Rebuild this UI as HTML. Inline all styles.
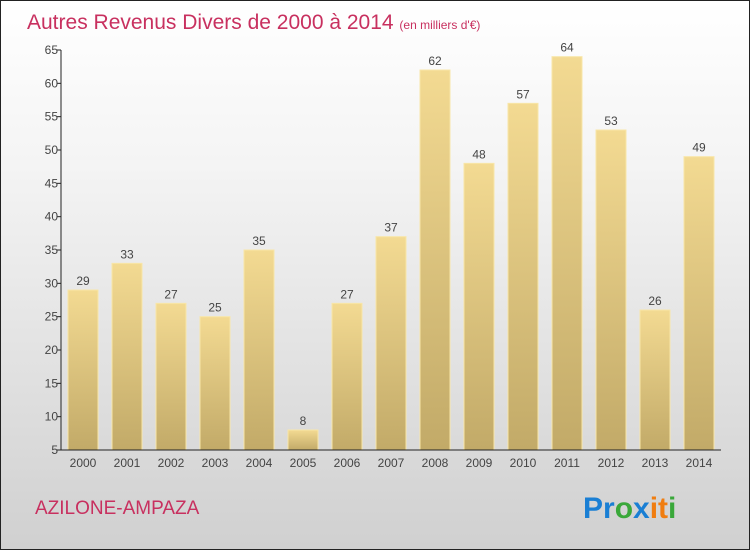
<!DOCTYPE html>
<html><head><meta charset="utf-8"><style>
body{margin:0}
#c{width:748px;height:548px;border:1px solid #222;background:linear-gradient(#ffffff,#f4f4f4 30%,#d0d0d0);position:relative;font-family:"Liberation Sans",sans-serif}
</style></head><body>
<div id="c">
<svg width="748" height="548" xmlns="http://www.w3.org/2000/svg" id="s">
<defs><linearGradient id="g" x1="0" y1="0" x2="0" y2="1"><stop offset="0" stop-color="#f3da92"/><stop offset="1" stop-color="#c2aa68"/></linearGradient></defs>
<text x="26" y="28" font-size="21" fill="#c8305f">Autres Revenus Divers de 2000 à 2014 <tspan font-size="12">(en milliers d'€)</tspan></text>
<text x="34" y="513" font-size="19" fill="#c8305f">AZILONE-AMPAZA</text>
<g font-size="30" font-weight="bold">
<text x="582" y="517"><tspan fill="#1a7fd4">Pr</tspan><tspan fill="#3aa83a">o</tspan><tspan fill="#1a7fd4">x</tspan><tspan fill="#f07d10">i</tspan><tspan fill="#f07d10">t</tspan><tspan fill="#3aa83a">i</tspan></text>
</g>
<g id="plot"></g>
</svg>
</div>
<script>
const categories=["2000","2001","2002","2003","2004","2005","2006","2007","2008","2009","2010","2011","2012","2013","2014"];
const values=[29,33,27,25,35,8,27,37,62,48,57,64,53,26,49];
const yTicks=[5,10,15,20,25,30,35,40,45,50,55,60,65];
const ns="http://www.w3.org/2000/svg";
const p=document.getElementById('plot');
const x0=60,slot=44,ymin=5,ymax=65,yTop=49,yBot=449;
const y=v=>yBot-(v-ymin)/(ymax-ymin)*(yBot-yTop);
const xc=i=>x0+slot/2+slot*i;
function mk(t,a){const e=document.createElementNS(ns,t);for(const k in a)e.setAttribute(k,a[k]);p.appendChild(e);return e;}
values.forEach((v,i)=>{
 const r=mk('rect',{x:xc(i)-15,y:y(v),width:30,height:yBot-y(v),fill:'url(#g)',stroke:'#f8e6a8','stroke-width':1});
 
 
 const t=mk('text',{x:xc(i),y:y(v)-5,'text-anchor':'middle','font-size':12,fill:'#444'});
 t.textContent=v;
 
 
 const c=mk('text',{x:xc(i),y:466,'text-anchor':'middle','font-size':12,fill:'#444'});
 c.textContent=categories[i];
 
 
});
yTicks.forEach(v=>{
 const l=mk('line',{x1:x0-4,x2:x0,y1:y(v),y2:y(v),stroke:'#222'});
 
 
 const t=mk('text',{x:x0-3,y:y(v)+4,'text-anchor':'end','font-size':12,fill:'#444'});
 t.textContent=v;
 
 
});
const ya=mk('line',{x1:x0,x2:x0,y1:yTop,y2:yBot,stroke:'#222'});


const xa=mk('line',{x1:x0,x2:x0+slot*categories.length,y1:yBot,y2:yBot,stroke:'#222'});


</script>
</body></html>
